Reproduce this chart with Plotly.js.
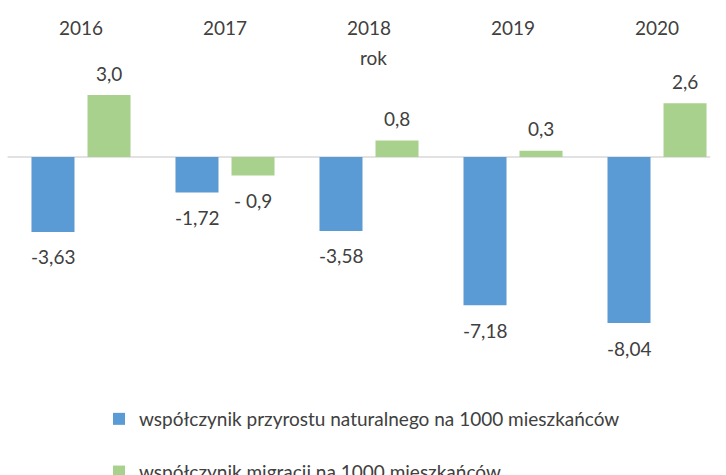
<!DOCTYPE html>
<html>
<head>
<meta charset="utf-8">
<script src="https://cdn.plot.ly/plotly-3.0.1.min.js"></script>
<style>html,body{margin:0;padding:0;background:#fff;}#chart{width:726px;height:475px;}</style>
</head>
<body>
<div id="chart"></div>
<script>
const years = ['2016', '2017', '2018', '2019', '2020'];
const natural = [-3.63, -1.72, -3.58, -7.18, -8.04];
const migration = [3.0, -0.9, 0.8, 0.3, 2.6];
const naturalLabels = ['-3,63', '-1,72', '-3,58', '-7,18', '-8,04'];
const migrationLabels = ['3,0', '- 0,9', '0,8', '0,3', '2,6'];
const seriesNames = ['współczynik przyrostu naturalnego na 1000 mieszkańców', 'współczynik migracji na 1000 mieszkańców'];
const axisTitle = 'rok';

const FONT = 'Lato, "Liberation Sans", sans-serif';
const FS = 19;
const TXT = '#404040';
const BLUE = '#5B9BD5';
const GREEN = '#A9D18E';

const idx = years.map((_, i) => i);

const traces = [
  {type: 'bar', x: idx, y: natural, name: seriesNames[0], marker: {color: BLUE}, legendgroup: 'a', hoverinfo: 'none'},
  {type: 'bar', x: idx, y: migration, name: seriesNames[1], marker: {color: GREEN}, legendgroup: 'b', hoverinfo: 'none'}
];

const annotations = [];
function addLabels(vals, labels, xs) {
  vals.forEach((v, i) => {
    annotations.push({
      x: idx[i], y: v, xref: 'x', yref: 'y', text: labels[i], showarrow: false,
      xshift: xs, yshift: v < 0 ? -25 : 22, yanchor: 'middle', xanchor: 'center',
      font: {family: FONT, size: FS, color: TXT}
    });
  });
}
addLabels(natural, naturalLabels, -28);
addLabels(migration, migrationLabels, 28);
annotations.push({
  text: axisTitle, xref: 'paper', yref: 'paper', x: 0.508, y: 0.95, showarrow: false,
  xanchor: 'center', yanchor: 'middle', font: {family: FONT, size: FS, color: TXT}
});

const layout = {
  width: 726, height: 475,
  margin: {l: 9, r: 0, t: 40, b: 95, autoexpand: false},
  paper_bgcolor: '#fff', plot_bgcolor: '#fff',
  font: {family: FONT, size: FS, color: TXT},
  barmode: 'group', bargap: 0.222, bargroupgap: 0.232,
  xaxis: {type: 'linear', side: 'top', range: [-0.5, 4.479], tickmode: 'array', tickvals: idx, ticktext: years, automargin: false,
          showgrid: false, zeroline: false, showline: false, ticks: '', tickfont: {family: FONT, size: FS, color: TXT}, fixedrange: true},
  yaxis: {range: [-10.799, 5.666], showgrid: false, zeroline: false, showticklabels: false, showline: false, ticks: '', fixedrange: true, automargin: false},
  shapes: [{type: 'line', xref: 'paper', yref: 'y', x0: -0.002, x1: 0.978, y0: 0, y1: 0, line: {color: '#D9D9D9', width: 1.5}, layer: 'below'}],
  annotations: annotations,
  showlegend: true,
  legend: {orientation: 'v', xref: 'container', yref: 'container', x: 99/726, y: 1 - 400/475, xanchor: 'left', yanchor: 'top',
           traceorder: 'grouped', tracegroupgap: 25, font: {family: FONT, size: FS, color: TXT}, bgcolor: 'rgba(0,0,0,0)'}
};

Plotly.newPlot('chart', traces, layout, {displayModeBar: false, staticPlot: true});
</script>
</body>
</html>
